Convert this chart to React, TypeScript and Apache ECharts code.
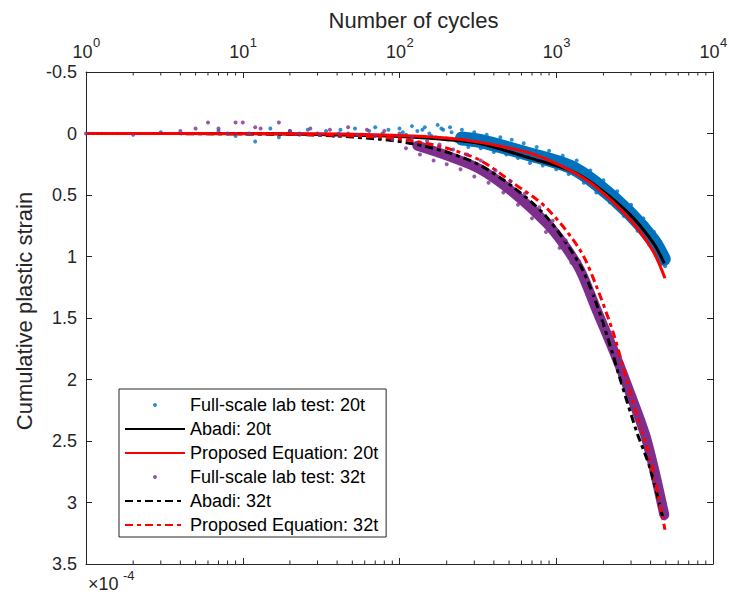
import React, { useEffect, useRef } from "react";
import * as echarts from "echarts";

const FONT = '"Liberation Sans", Arial, Helvetica, sans-serif';
const AX = "#262626";
const BLUE = "#0072BD";
const PURPLE = "#7E2F8E";
const RED = "#FF0000";
const BLACK = "#000000";

// x tick values (log axis, as exponents of 10) and minor tick mantissas
const majorTickExponents = [0, 1, 2, 3, 4];
const minorTickMantissas = [2, 3, 4, 5, 6, 7, 8, 9];
const minorTickDecades = [1, 10, 100, 1000];

// Full-scale lab test 20t: individual dots
const lab20DotN = [3, 7, 9, 12, 15, 17, 20, 23, 26, 30, 34, 38, 42, 47, 52, 58, 64, 70, 78, 85, 92, 100, 105, 110, 115, 120, 130, 140, 145, 155, 160, 170, 175, 185, 190, 200, 210, 215, 230, 240, 250, 260, 275, 300, 330, 360, 400, 440, 480, 520, 570, 620, 680, 750, 820, 900, 1000, 1100, 1200, 1350, 1500, 1650, 1800, 2000, 2200, 2450, 2700, 3000, 3300, 3600, 3900, 4200, 4500, 4800, 4950];
const lab20DotS = [-0.01, -0.02, 0.02, 0.065, -0.04, 0.03, -0.02, 0.01, -0.03, 0.0, -0.02, 0.02, -0.03, 0.0, -0.04, 0.01, -0.02, -0.05, 0.0, -0.03, 0.02, -0.04, -0.01, 0.01, 0.03, -0.06, -0.02, -0.03, -0.05, 0.0, 0.02, 0.03, -0.07, -0.04, -0.03, 0.04, -0.05, -0.01, 0.06, 0.02, -0.03, 0.07, 0.11, -0.01, 0.12, 0.01, 0.15, 0.03, 0.17, 0.05, 0.2, 0.08, 0.24, 0.11, 0.26, 0.14, 0.29, 0.18, 0.33, 0.22, 0.4, 0.3, 0.48, 0.38, 0.56, 0.47, 0.67, 0.58, 0.79, 0.69, 0.9, 0.8, 1.0, 0.93, 1.08];
// dense part of the 20t test cloud (centre of the band)
const lab20BandN = [250, 326, 680, 1224, 1812, 2955, 4159, 4850];
const lab20BandS = [0.04, 0.06, 0.17, 0.27, 0.41, 0.65, 0.87, 1.02];

// Abadi 20t
const abadi20N = [1, 10, 30, 60, 100, 200, 326, 680, 1224, 1812, 2955, 4159, 4890];
const abadi20S = [0, 0.002, 0.008, 0.016, 0.025, 0.05, 0.082, 0.2, 0.3, 0.43, 0.66, 0.89, 1.056];
// Proposed equation 20t
const prop20N = [1, 10, 30, 60, 100, 200, 326, 680, 1224, 1812, 2955, 4159, 4940];
const prop20S = [0, 0, 0.003, 0.008, 0.016, 0.036, 0.072, 0.16, 0.3, 0.44, 0.7, 0.96, 1.177];

// Full-scale lab test 32t: individual dots
const lab32DotN = [1, 2, 4, 5, 6, 7, 8, 9, 10, 11, 12, 13, 17, 20, 23, 27, 31, 36, 41, 47, 54, 62, 70, 80, 90, 100, 110, 120, 135, 150, 165, 180, 200, 220, 245, 270, 300, 330, 370, 410, 460, 510, 570, 630, 700, 780, 860, 950, 1050, 1150, 1250, 1400, 1550, 1700, 1900, 2100, 2300, 2500, 2700, 2900, 3100, 3300, 3500, 3700, 3900, 4100, 4300, 4500, 4700, 4900];
const lab32DotS = [0, 0.01, -0.02, -0.04, -0.09, -0.04, 0, -0.09, -0.09, 0, -0.05, -0.04, -0.09, -0.02, 0.0, -0.04, 0.01, -0.03, 0.0, -0.05, 0.01, -0.03, 0.02, -0.02, 0.05, 0.0, 0.12, 0.03, 0.17, 0.06, 0.22, 0.09, 0.25, 0.13, 0.29, 0.17, 0.35, 0.22, 0.4, 0.3, 0.48, 0.39, 0.58, 0.49, 0.69, 0.6, 0.8, 0.71, 0.93, 0.87, 1.05, 1.04, 1.26, 1.3, 1.54, 1.59, 1.8, 1.84, 2.03, 2.07, 2.22, 2.24, 2.41, 2.44, 2.6, 2.63, 2.8, 2.84, 3.03, 3.13];
// dense part of the 32t test cloud (centre of the band)
const lab32BandN = [130, 201, 326, 532, 869, 1109, 1419, 1812, 2313, 2955, 3772, 4890];
const lab32BandS = [0.1, 0.18, 0.29, 0.48, 0.73, 0.896, 1.11, 1.437, 1.76, 2.11, 2.49, 3.1];

// Abadi 32t
const abadi32N = [1, 10, 30, 75, 122, 201, 326, 532, 869, 1419, 1812, 2313, 2490, 3250, 3963, 4820];
const abadi32S = [0, 0.003, 0.013, 0.046, 0.083, 0.152, 0.258, 0.436, 0.68, 1.07, 1.39, 1.81, 1.95, 2.42, 2.72, 3.14];
// Proposed equation 32t
const prop32N = [1, 10, 30, 75, 122, 201, 326, 532, 869, 1419, 1812, 2313, 2680, 3250, 3963, 4940];
const prop32S = [0, 0.002, 0.01, 0.03, 0.06, 0.12, 0.217, 0.403, 0.606, 0.948, 1.248, 1.622, 1.906, 2.279, 2.636, 3.221];

const legendNames = [
  "Full-scale lab test: 20t",
  "Abadi: 20t",
  "Proposed Equation: 20t",
  "Full-scale lab test: 32t",
  "Abadi: 32t",
  "Proposed Equation: 32t",
];
const legendIsLine = [false, true, true, false, true, true];

const zip = (a: number[], b: number[]) => a.map((v, i) => [v, b[i]]);

export default function App() {
  const ref = useRef<HTMLDivElement>(null);
  useEffect(() => {
    document.body.style.margin = "0";
    if (!ref.current) return;
    const chart = echarts.init(ref.current, undefined, { renderer: "svg" });

    const minorTicks: number[][] = [];
    minorTickDecades.forEach((d) => minorTickMantissas.forEach((m) => minorTicks.push([m * d, -0.5])));
    const majorLabels = majorTickExponents.map((e) => [Math.pow(10, e), -0.5, e]);

    const axisCommon = {
      axisLine: { onZero: false, lineStyle: { color: AX, width: 1 } },
      axisTick: { inside: true, length: 6, lineStyle: { color: AX, width: 1 } },
      splitLine: { show: false },
    };

    const lineSeries = (name: string, n: number[], s: number[], color: string, dashed: boolean) => ({
      name,
      type: "line",
      data: zip(n, s),
      symbol: "none",
      smooth: 0.3,
      lineStyle: { width: 3, color, type: dashed ? [8, 4, 4, 4] : "solid" },
      itemStyle: { color },
      z: 3,
    });

    const option: any = {
      animation: false,
      backgroundColor: "#ffffff",
      textStyle: { fontFamily: FONT },
      grid: { left: 86, top: 72, right: 16, bottom: 34 },
      xAxis: [
        {
          type: "log",
          logBase: 10,
          min: 1,
          max: 10000,
          position: "top",
          name: "Number of cycles",
          nameLocation: "middle",
          nameGap: 41,
          nameTextStyle: { fontSize: 22, color: AX, fontFamily: FONT, padding: [0, 0, 0, 28] },
          ...axisCommon,
          axisLabel: { show: false },
        },
        {
          type: "log",
          logBase: 10,
          min: 1,
          max: 10000,
          position: "bottom",
          ...axisCommon,
          axisLabel: { show: false },
        },
      ],
      yAxis: [
        {
          type: "value",
          inverse: true,
          min: -0.5,
          max: 3.5,
          interval: 0.5,
          position: "left",
          name: "Cumulative plastic strain",
          nameLocation: "middle",
          nameGap: 48,
          nameTextStyle: { fontSize: 22, color: AX, fontFamily: FONT, padding: [0, 0, 0, 14] },
          ...axisCommon,
          axisLabel: { margin: 9, fontSize: 18, color: AX, fontFamily: FONT },
        },
        {
          type: "value",
          inverse: true,
          min: -0.5,
          max: 3.5,
          interval: 0.5,
          position: "right",
          ...axisCommon,
          axisLabel: { show: false },
        },
      ],
      legend: {
        data: legendNames.map((name, i) =>
          legendIsLine[i] ? { name, itemStyle: { opacity: 0 } } : { name }
        ),
        orient: "vertical",
        left: 119,
        top: 389,
        itemWidth: 60,
        itemHeight: 4,
        itemGap: 4,
        padding: [6, 8, 2, 5],
        borderColor: AX,
        borderWidth: 1,
        backgroundColor: "#ffffff",
        selectedMode: false,
        textStyle: { fontSize: 18, lineHeight: 20, color: "#000", fontFamily: FONT },
      },
      graphic: [
        {
          type: "text",
          left: 88,
          top: 575,
          style: { text: "×10", fontSize: 18, fill: AX, fontFamily: FONT },
        },
        {
          type: "text",
          left: 123,
          top: 569,
          style: { text: "-4", fontSize: 13, fill: AX, fontFamily: FONT },
        },
      ],
      series: [
        {
          name: "band20",
          type: "line",
          data: zip(lab20BandN, lab20BandS),
          symbol: "none",
          smooth: 0.3,
          lineStyle: { width: 14, color: BLUE, cap: "round", join: "round" },
          z: 2,
        },
        {
          name: legendNames[0],
          type: "scatter",
          data: zip(lab20DotN, lab20DotS),
          symbol: "circle",
          symbolSize: 4,
          itemStyle: { color: BLUE },
          z: 2,
        },
        lineSeries(legendNames[1], abadi20N, abadi20S, BLACK, false),
        lineSeries(legendNames[2], prop20N, prop20S, RED, false),
        {
          name: "band32",
          type: "line",
          data: zip(lab32BandN, lab32BandS),
          symbol: "none",
          smooth: 0.3,
          lineStyle: { width: 10, color: PURPLE, cap: "round", join: "round" },
          z: 3,
        },
        {
          name: legendNames[3],
          type: "scatter",
          data: zip(lab32DotN, lab32DotS),
          symbol: "circle",
          symbolSize: 4,
          itemStyle: { color: PURPLE },
          z: 3,
        },
        lineSeries(legendNames[4], abadi32N, abadi32S, BLACK, true),
        lineSeries(legendNames[5], prop32N, prop32S, RED, true),
        {
          name: "minorTicks",
          type: "custom",
          data: minorTicks,
          silent: true,
          z: 10,
          renderItem: (params: any, api: any) => {
            const n = api.value(0);
            const t = api.coord([n, -0.5]);
            const b = api.coord([n, 3.5]);
            return {
              type: "group",
              children: [
                { type: "line", shape: { x1: t[0], y1: t[1], x2: t[0], y2: t[1] + 3.5 }, style: { stroke: AX, lineWidth: 1 } },
                { type: "line", shape: { x1: b[0], y1: b[1], x2: b[0], y2: b[1] - 3.5 }, style: { stroke: AX, lineWidth: 1 } },
              ],
            };
          },
        },
        {
          name: "xTickLabels",
          type: "custom",
          data: majorLabels,
          silent: true,
          clip: false,
          z: 10,
          renderItem: (params: any, api: any) => {
            const n = api.value(0);
            const e = api.value(2);
            const p = api.coord([n, -0.5]);
            return {
              type: "group",
              children: [
                {
                  type: "text",
                  x: p[0] + 6.5,
                  y: p[1] - 11,
                  style: { text: "10", fontSize: 18, fill: AX, fontFamily: FONT, align: "right", verticalAlign: "bottom" },
                },
                {
                  type: "text",
                  x: p[0] + 7,
                  y: p[1] - 23,
                  style: { text: String(e), fontSize: 13, fill: AX, fontFamily: FONT, align: "left", verticalAlign: "bottom" },
                },
              ],
            };
          },
        },
      ],
    };
    chart.setOption(option);
    return () => chart.dispose();
  }, []);
  return <div ref={ref} style={{ position: "fixed", left: 0, top: 0, width: 729, height: 598 }} />;
}
